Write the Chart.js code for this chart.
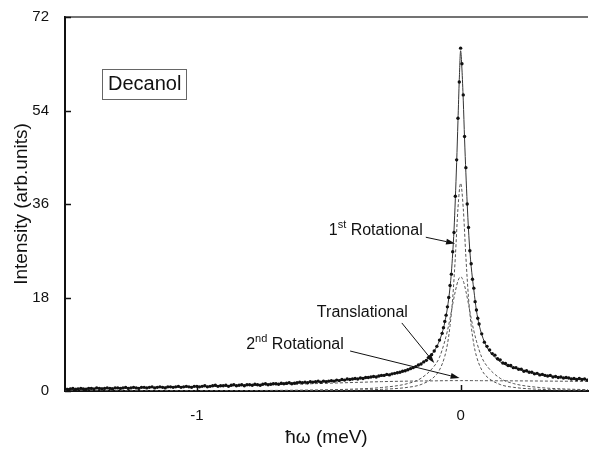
<!DOCTYPE html>
<html>
<head>
<meta charset="utf-8">
<script src="https://cdn.jsdelivr.net/npm/chart.js@4/dist/chart.umd.min.js"></script>
<style>
  html, body { margin: 0; padding: 0; background: #fff; }
  #chart { display: block; }
</style>
</head>
<body>
<canvas id="chart" width="592" height="452"></canvas>
<script>
// measured spectrum (energy transfer in meV, intensity in arb. units)
const energy = [
  -1.50,-1.49,-1.48,-1.47,-1.46,-1.45,-1.44,-1.43,-1.42,-1.41,
  -1.40,-1.39,-1.38,-1.37,-1.36,-1.35,-1.34,-1.33,-1.32,-1.31,
  -1.30,-1.29,-1.28,-1.27,-1.26,-1.25,-1.24,-1.23,-1.22,-1.21,
  -1.20,-1.19,-1.18,-1.17,-1.16,-1.15,-1.14,-1.13,-1.12,-1.11,
  -1.10,-1.09,-1.08,-1.07,-1.06,-1.05,-1.04,-1.03,-1.02,-1.01,
  -1.00,-0.99,-0.98,-0.97,-0.96,-0.95,-0.94,-0.93,-0.92,-0.91,
  -0.90,-0.89,-0.88,-0.87,-0.86,-0.85,-0.84,-0.83,-0.82,-0.81,
  -0.80,-0.79,-0.78,-0.77,-0.76,-0.75,-0.74,-0.73,-0.72,-0.71,
  -0.70,-0.69,-0.68,-0.67,-0.66,-0.65,-0.64,-0.63,-0.62,-0.61,
  -0.60,-0.59,-0.58,-0.57,-0.56,-0.55,-0.54,-0.53,-0.52,-0.51,
  -0.50,-0.49,-0.48,-0.47,-0.46,-0.45,-0.44,-0.43,-0.42,-0.41,
  -0.40,-0.39,-0.38,-0.37,-0.36,-0.35,-0.34,-0.33,-0.32,-0.31,
  -0.30,-0.29,-0.28,-0.27,-0.26,-0.25,-0.24,-0.23,-0.22,-0.21,
  -0.20,-0.19,-0.18,-0.17,-0.16,-0.15,-0.14,-0.13,-0.12,-0.11,
  -0.10,-0.09,-0.08,-0.07,
  -0.065,-0.06,-0.055,-0.05,-0.045,-0.04,-0.035,-0.03,-0.025,-0.02,-0.015,-0.01,-0.005,
  0,0.005,0.01,0.015,0.02,0.025,0.03,0.035,0.04,0.045,0.05,0.055,0.06,0.065,
  0.07,0.08,0.09,0.10,
  0.11,0.12,0.13,0.14,0.15,0.16,0.17,0.18,0.19,0.20,
  0.21,0.22,0.23,0.24,0.25,0.26,0.27,0.28,0.29,0.30,
  0.31,0.32,0.33,0.34,0.35,0.36,0.37,0.38,0.39,0.40,
  0.41,0.42,0.43,0.44,0.45,0.46,0.47,0.48
];
const intensity = [
  0.4,0.3,0.4,0.5,0.3,0.4,0.5,0.4,0.3,0.5,
  0.5,0.4,0.6,0.5,0.4,0.5,0.6,0.5,0.4,0.6,
  0.6,0.5,0.6,0.7,0.5,0.6,0.7,0.6,0.5,0.7,
  0.7,0.6,0.7,0.8,0.6,0.7,0.8,0.7,0.6,0.8,
  0.8,0.7,0.8,0.9,0.7,0.8,0.9,0.8,0.7,0.9,
  0.9,0.8,0.9,1.0,0.8,0.9,1.0,1.1,0.9,1.0,
  1.0,1.1,0.9,1.1,1.2,1.0,1.1,1.2,1.0,1.2,
  1.2,1.1,1.3,1.2,1.1,1.3,1.4,1.2,1.3,1.4,
  1.4,1.3,1.5,1.4,1.5,1.6,1.4,1.5,1.6,1.7,
  1.6,1.7,1.6,1.8,1.7,1.8,1.9,1.7,1.9,1.8,
  1.9,2.0,1.9,2.1,2.0,2.2,2.1,2.3,2.2,2.3,
  2.4,2.3,2.5,2.4,2.6,2.6,2.7,2.8,2.7,2.9,
  3.0,3.0,3.2,3.1,3.3,3.4,3.5,3.6,3.8,3.9,
  4.1,4.3,4.5,4.7,5.0,5.2,5.6,5.9,6.5,7.0,
  7.7,8.6,9.8,11.1,
  12.2,13.4,14.6,16.2,18.0,20.3,22.5,26.8,30.5,37.5,44.5,52.5,59.5,
  66.0,63.0,57.0,49.0,43.0,36.0,31.5,27.0,24.5,21.5,19.8,17.2,15.6,14.0,
  12.9,11.0,9.4,8.6,
  7.9,7.2,6.9,6.2,6.0,5.4,5.3,4.9,4.9,4.5,
  4.5,4.2,4.2,3.8,3.9,3.6,3.6,3.3,3.4,3.1,
  3.2,3.0,2.9,3.0,2.7,2.8,2.6,2.7,2.5,2.6,
  2.5,2.3,2.4,2.2,2.4,2.2,2.3,2.1
];

// total fit
const fitE = [-1.5,-1.4,-1.3,-1.2,-1.1,-1.0,-0.9,-0.8,-0.7,-0.6,-0.5,-0.45,-0.4,-0.35,-0.3,-0.25,-0.2,
  -0.18,-0.16,-0.14,-0.12,-0.1,-0.09,-0.08,-0.07,-0.06,-0.05,-0.04,-0.035,-0.03,-0.025,-0.02,-0.015,-0.01,-0.005,
  0,0.005,0.01,0.015,0.02,0.025,0.03,0.035,0.04,0.05,0.06,0.07,0.08,0.09,0.1,
  0.12,0.14,0.16,0.18,0.2,0.25,0.3,0.35,0.4,0.45,0.483];
const fitI = [0.35,0.45,0.55,0.65,0.75,0.85,1.0,1.15,1.35,1.6,1.9,2.1,2.35,2.6,2.95,3.4,4.1,
  4.5,5.0,5.6,6.5,7.7,8.6,9.7,11.2,13.2,16.0,20.0,22.8,26.5,31.0,37.0,44.0,52.0,60.0,
  65.5,62.0,56.0,48.5,42.0,36.0,31.0,27.0,24.0,19.5,15.5,12.8,10.9,9.5,8.4,
  7.0,6.0,5.3,4.8,4.5,3.8,3.2,2.8,2.5,2.3,2.2];

// fitted components
const compE = [-1.5,-1.0,-0.6,-0.4,-0.3,-0.2,-0.15,-0.1,-0.08,-0.06,-0.05,-0.04,-0.03,-0.02,-0.01,
  0,0.01,0.02,0.03,0.04,0.05,0.06,0.08,0.1,0.15,0.2,0.3,0.4,0.483];
const translational = [0.01,0.03,0.08,0.18,0.32,0.71,1.25,2.73,4.06,6.7,9.0,12.6,17.9,25.8,35.2,
  40,35.2,25.8,17.9,12.6,9.0,6.7,4.06,2.73,1.25,0.71,0.32,0.18,0.12];
const rotational1 = [0.03,0.06,0.17,0.38,0.67,1.44,2.45,4.8,6.5,9.6,11.6,14.0,16.7,19.2,21.2,
  22,21.2,19.2,16.7,14.0,11.6,9.6,6.5,4.8,2.45,1.44,0.67,0.38,0.26];
const rotational2 = [0.5,0.85,1.35,1.65,1.8,1.9,1.93,1.95,1.97,1.98,1.99,2.0,2.0,2.0,2.0,
  2.0,2.0,2.0,2.0,2.0,1.99,1.99,1.98,1.98,1.96,1.95,1.92,1.88,1.85];

const xTicks = [-1, 0];
const yTicks = [0, 18, 36, 54, 72];

// callouts: text anchor and arrow in data units
const callouts = [
  { main: '1', sup: 'st', rest: ' Rotational', at: [-0.50, 30.1], from: [-0.132, 29.6], to: [-0.021, 28.4] },
  { main: 'Translational', sup: '', rest: '', at: [-0.545, 14.2], from: [-0.223, 13.1], to: [-0.100, 5.4] },
  { main: '2', sup: 'nd', rest: ' Rotational', at: [-0.813, 8.0], from: [-0.419, 7.7], to: [-0.004, 2.5] }
];
const sampleBox = { text: 'Decanol', x1: -1.358, y1: 62.0, x2: -1.038, y2: 56.3 };

const FONT = "'Liberation Sans', Arial, sans-serif";

function pairs(xs, ys) {
  return xs.map((v, i) => ({ x: v, y: ys[i] }));
}

function arrow(ctx, x1, y1, x2, y2) {
  const ang = Math.atan2(y2 - y1, x2 - x1);
  const len = 9, half = 3;
  ctx.beginPath();
  ctx.moveTo(x1, y1);
  ctx.lineTo(x2 - Math.cos(ang) * len, y2 - Math.sin(ang) * len);
  ctx.stroke();
  ctx.beginPath();
  ctx.moveTo(x2, y2);
  ctx.lineTo(x2 - Math.cos(ang) * len - Math.sin(ang) * half, y2 - Math.sin(ang) * len + Math.cos(ang) * half);
  ctx.lineTo(x2 - Math.cos(ang) * len + Math.sin(ang) * half, y2 - Math.sin(ang) * len - Math.cos(ang) * half);
  ctx.closePath();
  ctx.fill();
}

const decor = {
  id: 'decor',
  afterDraw(chart) {
    const { ctx, chartArea: a, scales: { x, y } } = chart;
    ctx.save();

    // top frame line
    ctx.strokeStyle = '#444';
    ctx.lineWidth = 1.5;
    ctx.beginPath();
    ctx.moveTo(a.left, a.top);
    ctx.lineTo(a.right, a.top);
    ctx.stroke();

    // inward ticks
    ctx.strokeStyle = '#111';
    ctx.lineWidth = 1.5;
    xTicks.forEach(v => {
      const px = Math.round(x.getPixelForValue(v)) + 0.5;
      ctx.beginPath();
      ctx.moveTo(px, a.bottom);
      ctx.lineTo(px, a.bottom - 6);
      ctx.stroke();
    });
    yTicks.forEach(v => {
      const py = Math.round(y.getPixelForValue(v)) + 0.5;
      ctx.beginPath();
      ctx.moveTo(a.left, py);
      ctx.lineTo(a.left + 6, py);
      ctx.stroke();
    });

    // sample name box
    const bx1 = x.getPixelForValue(sampleBox.x1), by1 = y.getPixelForValue(sampleBox.y1);
    const bx2 = x.getPixelForValue(sampleBox.x2), by2 = y.getPixelForValue(sampleBox.y2);
    ctx.strokeStyle = '#666';
    ctx.lineWidth = 1;
    ctx.strokeRect(Math.round(bx1) + 0.5, Math.round(by1) + 0.5, Math.round(bx2 - bx1), Math.round(by2 - by1));
    ctx.fillStyle = '#111';
    ctx.font = '20px ' + FONT;
    ctx.textAlign = 'center';
    ctx.textBaseline = 'middle';
    ctx.fillText(sampleBox.text, (bx1 + bx2) / 2, (by1 + by2) / 2 + 1);

    // callouts
    ctx.textAlign = 'left';
    ctx.textBaseline = 'alphabetic';
    ctx.strokeStyle = '#111';
    ctx.lineWidth = 1;
    callouts.forEach(c => {
      let px = x.getPixelForValue(c.at[0]);
      const py = y.getPixelForValue(c.at[1]);
      ctx.font = '16px ' + FONT;
      ctx.fillText(c.main, px, py);
      px += ctx.measureText(c.main).width;
      if (c.sup) {
        ctx.font = '11px ' + FONT;
        ctx.fillText(c.sup, px, py - 7);
        px += ctx.measureText(c.sup).width;
        ctx.font = '16px ' + FONT;
        ctx.fillText(c.rest, px, py);
      }
      arrow(ctx,
        x.getPixelForValue(c.from[0]), y.getPixelForValue(c.from[1]),
        x.getPixelForValue(c.to[0]), y.getPixelForValue(c.to[1]));
    });

    ctx.restore();
  }
};

const dashed = { showLine: true, pointRadius: 0, borderWidth: 1, borderColor: '#555', borderDash: [3, 2], cubicInterpolationMode: 'monotone' };

new Chart(document.getElementById('chart'), {
  type: 'scatter',
  data: {
    datasets: [
      { label: 'data', data: pairs(energy, intensity), pointRadius: 1.7, pointBackgroundColor: '#111', pointBorderWidth: 0, showLine: false },
      { label: 'fit', data: pairs(fitE, fitI), showLine: true, pointRadius: 0, borderWidth: 1, borderColor: '#333', cubicInterpolationMode: 'monotone' },
      Object.assign({ label: 'Translational', data: pairs(compE, translational) }, dashed),
      Object.assign({ label: '1st Rotational', data: pairs(compE, rotational1) }, dashed),
      Object.assign({ label: '2nd Rotational', data: pairs(compE, rotational2) }, dashed)
    ]
  },
  options: {
    responsive: false,
    animation: false,
    layout: { padding: { top: 16, right: 0, left: 0, bottom: 0 } },
    plugins: { legend: { display: false }, tooltip: { enabled: false } },
    scales: {
      x: {
        type: 'linear',
        min: -1.5,
        max: 0.483,
        afterBuildTicks: s => { s.ticks = xTicks.map(v => ({ value: v })); },
        afterFit: s => { s.height = 61; },
        grid: { display: false },
        border: { display: true, color: '#111', width: 2 },
        ticks: { color: '#111', font: { family: FONT, size: 15 }, padding: 8 },
        title: { display: true, text: 'ħω (meV)', color: '#111', font: { family: FONT, size: 19 }, padding: { top: 0, bottom: 3 } }
      },
      y: {
        min: 0,
        max: 72,
        afterBuildTicks: s => { s.ticks = yTicks.map(v => ({ value: v })); },
        afterFit: s => { s.width = 65; },
        grid: { display: false },
        border: { display: true, color: '#111', width: 2 },
        ticks: { color: '#111', font: { family: FONT, size: 15 }, padding: 8 },
        title: { display: true, text: 'Intensity (arb.units)', color: '#111', font: { family: FONT, size: 19 }, padding: { top: 10, bottom: 0 } }
      }
    }
  },
  plugins: [decor]
});
</script>
</body>
</html>
